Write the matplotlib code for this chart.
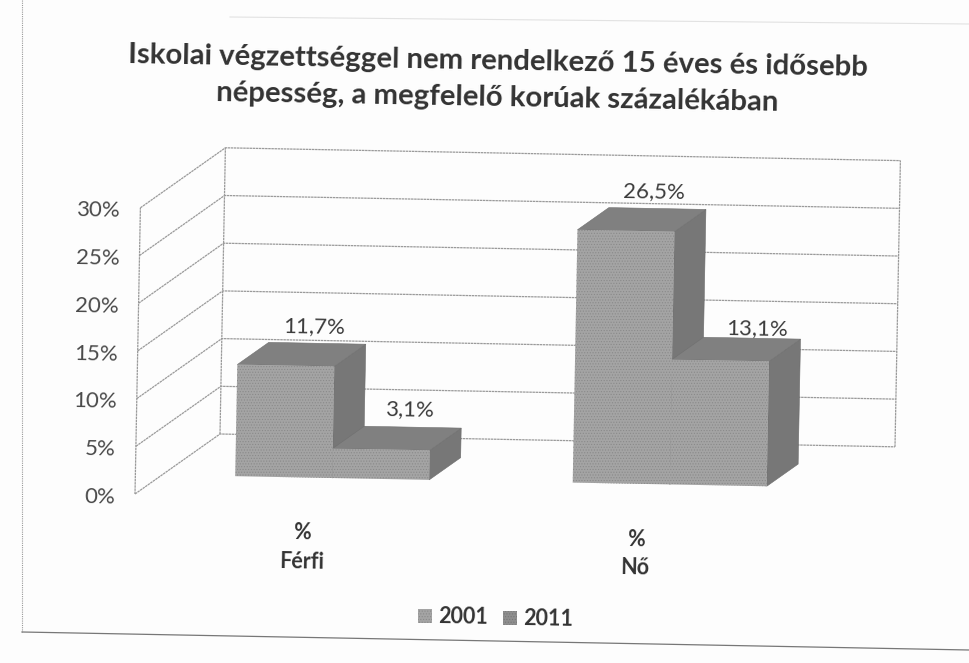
import matplotlib
matplotlib.use("Agg")
import matplotlib.pyplot as plt
from matplotlib.patches import Polygon

title = "Iskolai végzettséggel nem rendelkező 15 éves és idősebb\nnépesség, a megfelelő korúak százalékában"
categories = ["%\nFérfi", "%\nNő"]
series_names = ["2001", "2011"]
values_2001 = [11.7, 26.5]
values_2011 = [3.1, 13.1]
labels_2001 = ["11,7%", "26,5%"]
labels_2011 = ["3,1%", "13,1%"]
ticks = [0, 5, 10, 15, 20, 25, 30]

plt.rcParams["font.family"] = ["Lato", "DejaVu Sans"]
plt.rcParams["hatch.linewidth"] = 0.5

fig = plt.figure(figsize=(9.69, 6.63), dpi=100, facecolor="#fdfdfd")
ax = fig.add_axes([0, 0, 1, 1])
ax.set_xlim(0, 969)
ax.set_ylim(663, 0)
ax.axis("off")

# szkennelt oldal: kicsit el van forgatva
plot_w = 675
cat_w = plot_w / 2
bar_w = 97
bar_off = 73


def proj(x, v, d):
    # x: px a vizszintes tengelyen, v: szazalek, d: melyseg 0..1
    return (135 + x + 0.18 * v + 85 * d, 494 + 0.019 * x - 9.54 * v - 60 * d)


# falak
grid = "#9a9a9a"
for t in ticks:
    p0, p1, p2 = proj(0, t, 0), proj(0, t, 1), proj(plot_w, t, 1)
    ax.plot([p0[0], p1[0], p2[0]], [p0[1], p1[1], p2[1]], color=grid, lw=0.9, ls=(0, (2, 0.5)), zorder=1)
for x, d in [(0, 0), (0, 1), (plot_w, 1)]:
    a, b = proj(x, 0, d), proj(x, 30, d)
    ax.plot([a[0], b[0]], [a[1], b[1]], color=grid, lw=0.9, ls=(0, (2, 0.5)), zorder=1)

for t in ticks:
    x0, y0 = proj(0, t, 0)
    ax.text(x0 - 20, y0 + 3, f"{t}%", ha="right", va="center", fontsize=16, color="#4a4a4a", rotation=-1)


def bar(x, v):
    d0, d1 = 0.32, 0.69
    front = [proj(x, 0, d0), proj(x + bar_w, 0, d0), proj(x + bar_w, v, d0), proj(x, v, d0)]
    side = [proj(x + bar_w, 0, d0), proj(x + bar_w, 0, d1), proj(x + bar_w, v, d1), proj(x + bar_w, v, d0)]
    top = [proj(x, v, d0), proj(x + bar_w, v, d0), proj(x + bar_w, v, d1), proj(x, v, d1)]
    ax.add_patch(Polygon(side, fc="#777777", ec="#6c6c6c", lw=0.4, zorder=3))
    ax.add_patch(Polygon(top, fc="#808080", ec="#707070", lw=0.4, zorder=3))
    ax.add_patch(Polygon(front, fc="#a4a4a4", ec="#8a8a8a", lw=0, hatch="......", zorder=3))


for i in range(len(categories)):
    x = bar_off + i * cat_w
    bar(x, values_2001[i])
    bar(x + bar_w, values_2011[i])
    # a 13,1% felirat lejjebb es jobbra all az eredetin
    nudge = (8, 8) if i == 1 else (0, 0)
    px, py = proj(x + bar_w / 2, values_2001[i], 0.69)
    ax.text(px - 3, py - 17, labels_2001[i], ha="center", va="center", fontsize=16, color="#3c3c3c", rotation=-1)
    px, py = proj(x + bar_w + bar_w / 2, values_2011[i], 0.69)
    ax.text(px - 3 + nudge[0], py - 18 + nudge[1], labels_2011[i], ha="center", va="center", fontsize=16,
            color="#3c3c3c", rotation=-1)
    px, py = proj(x + bar_w, 0, 0)
    ax.text(px - 3 - 4 * i, py + 50, categories[i], ha="center", va="center", fontsize=15.5, fontweight="bold",
            color="#333333", rotation=-1, linespacing=1.45)

ax.text(498, 80, title, ha="center", va="center", fontsize=21.2, fontweight="bold", color="#333333",
        rotation=-1, linespacing=1.5)

# jelmagyarazat
ax.add_patch(Polygon([(418, 609), (432, 609), (432, 623), (418, 623)], fc="#a4a4a4", ec="#8a8a8a", lw=0, hatch="......"))
ax.text(438, 617, series_names[0], ha="left", va="center", fontsize=15.5, fontweight="bold", color="#333333", rotation=-1)
ax.add_patch(Polygon([(503, 611), (517, 611), (517, 625), (503, 625)], fc="#8e8e8e", ec="#777777", lw=0, hatch="......"))
ax.text(523, 619, series_names[1], ha="left", va="center", fontsize=15.5, fontweight="bold", color="#333333", rotation=-1)

# diagram kerete
ax.plot([22, 22], [0, 632], color="#999999", lw=0.8, ls=(0, (1, 1)))
ax.plot([22, 969], [632, 650], color="#777777", lw=0.9)
ax.plot([230, 969], [17, 24], color="#e2e2e2", lw=0.8)

fig.savefig("out.png", dpi=100, facecolor=fig.get_facecolor())
